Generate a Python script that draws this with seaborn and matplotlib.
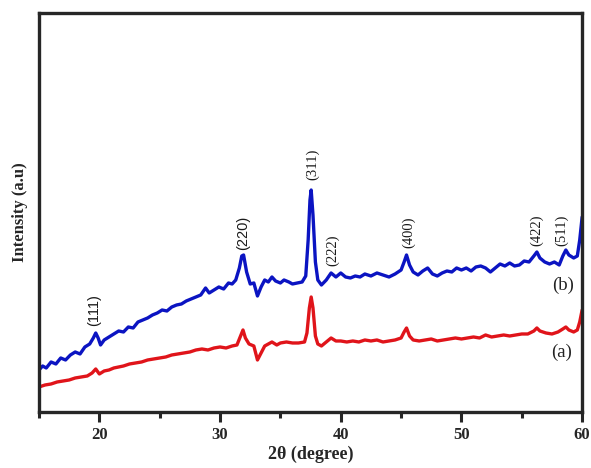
import matplotlib
matplotlib.use("Agg")
import matplotlib.pyplot as plt
from matplotlib.ticker import MultipleLocator
import seaborn as sns
import pandas as pd

# --- data (2theta in degrees, intensity in arbitrary units) ---
two_theta_b = [15.0, 15.3, 15.6, 16.0, 16.4, 16.8, 17.2, 17.6, 18.0, 18.4, 18.8, 19.2, 19.5, 19.7, 19.9,
               20.1, 20.4, 20.8, 21.2, 21.6, 22.0, 22.4, 22.8, 23.2, 23.6, 24.0, 24.4, 24.8, 25.2, 25.6,
               26.0, 26.4, 26.8, 27.2, 27.6, 28.0, 28.4, 28.8, 29.1, 29.5, 29.9, 30.3, 30.7, 31.0, 31.3,
               31.6, 31.8, 31.95, 32.2, 32.5, 32.8, 33.1, 33.4, 33.7, 34.0, 34.3, 34.6, 35.0, 35.3, 35.7,
               36.0, 36.4, 36.8, 37.1, 37.3, 37.45, 37.55, 37.7, 37.9, 38.1, 38.4, 38.8, 39.2, 39.6, 40.0,
               40.4, 40.8, 41.2, 41.6, 42.0, 42.5, 43.0, 43.5, 44.0, 44.5, 45.0, 45.25, 45.45, 45.7, 46.0,
               46.4, 46.8, 47.2, 47.6, 48.0, 48.4, 48.8, 49.2, 49.6, 50.0, 50.4, 50.8, 51.2, 51.6, 52.0,
               52.4, 52.8, 53.2, 53.6, 54.0, 54.4, 54.8, 55.2, 55.6, 56.0, 56.25, 56.5, 56.9, 57.3, 57.7,
               58.1, 58.4, 58.65, 58.9, 59.3, 59.6, 59.8, 60.0]
intensity_b = [38, 42, 40, 46, 44, 50, 48, 53, 56, 54, 61, 64, 70, 75, 70,
               63, 68, 71, 74, 77, 76, 81, 80, 86, 88, 90, 93, 95, 98, 97,
               101, 103, 104, 107, 109, 111, 113, 120, 115, 118, 121, 119, 125, 124, 128,
               140, 152, 153, 136, 124, 125, 112, 121, 128, 126, 131, 127, 125, 128, 126,
               124, 125, 126, 132, 168, 208, 218, 193, 146, 128, 123, 128, 135, 131, 135,
               131, 130, 132, 131, 134, 132, 135, 133, 131, 134, 138, 146, 153, 143, 136,
               133, 137, 140, 134, 132, 135, 137, 136, 140, 138, 140, 137, 141, 142, 140,
               136, 140, 144, 142, 145, 142, 143, 147, 146, 152, 156, 150, 146, 144, 146,
               143, 152, 158, 153, 150, 152, 168, 191]

two_theta_a = [15.0, 15.5, 16.0, 16.5, 17.0, 17.5, 18.0, 18.5, 19.0, 19.4, 19.7, 20.0, 20.4, 20.8, 21.2,
               21.6, 22.0, 22.5, 23.0, 23.5, 24.0, 24.5, 25.0, 25.5, 26.0, 26.5, 27.0, 27.5, 28.0, 28.5,
               29.0, 29.5, 30.0, 30.5, 31.0, 31.4, 31.7, 31.9, 32.1, 32.4, 32.8, 33.1, 33.4, 33.7, 34.0,
               34.3, 34.7, 35.0, 35.5, 36.0, 36.5, 37.0, 37.2, 37.4, 37.55, 37.7, 37.9, 38.1, 38.4, 38.8,
               39.2, 39.6, 40.0, 40.5, 41.0, 41.5, 42.0, 42.5, 43.0, 43.5, 44.0, 44.5, 45.0, 45.25, 45.45,
               45.7, 46.0, 46.5, 47.0, 47.5, 48.0, 48.5, 49.0, 49.5, 50.0, 50.5, 51.0, 51.5, 52.0, 52.5,
               53.0, 53.5, 54.0, 54.5, 55.0, 55.5, 56.0, 56.25, 56.5, 57.0, 57.5, 58.0, 58.4, 58.65, 58.9,
               59.3, 59.6, 59.8, 60.0]
intensity_a = [21, 23, 24, 26, 27, 28, 30, 31, 32, 35, 39, 34, 37, 38, 40,
               41, 42, 44, 45, 46, 48, 49, 50, 51, 53, 54, 55, 56, 58, 59,
               58, 60, 61, 60, 62, 63, 72, 78, 70, 64, 62, 48, 55, 62, 64,
               66, 63, 65, 66, 65, 65, 66, 75, 100, 111, 100, 72, 64, 62, 66,
               70, 67, 67, 66, 67, 66, 68, 67, 68, 66, 67, 68, 70, 76, 80,
               72, 68, 67, 68, 69, 67, 68, 69, 70, 69, 70, 71, 70, 73, 71,
               72, 73, 72, 73, 74, 74, 77, 80, 77, 75, 74, 76, 79, 81, 78,
               76, 78, 86, 98]

peak_labels = ["(111)", "(220)", "(311)", "(222)", "(400)", "(422)", "(511)"]
peak_label_x = [19.6, 31.9, 37.7, 39.35, 45.6, 56.2, 58.3]
peak_label_y = [98, 175, 244, 158, 176, 178, 178]
peak_label_font = ["Liberation Sans", "Liberation Sans", "Liberation Serif", "Liberation Serif",
                   "Liberation Serif", "Liberation Serif", "Liberation Serif"]

sample_labels = ["(b)", "(a)"]
sample_label_x = [58.4, 58.3]
sample_label_y = [123, 56]

x_ticks = [20, 30, 40, 50, 60]

# --- plotting ---
sns.set_style("ticks")
plt.rcParams["font.family"] = ["Liberation Serif", "DejaVu Serif"]

df_b = pd.DataFrame({"two_theta": two_theta_b, "intensity": intensity_b})
df_a = pd.DataFrame({"two_theta": two_theta_a, "intensity": intensity_a})

fig = plt.figure(figsize=(5.91, 4.68), dpi=100)
ax = fig.add_axes([0.066, 0.1197, 0.919, 0.8525])

sns.lineplot(data=df_b, x="two_theta", y="intensity", ax=ax, color="#0b14c2", lw=2.4,
             estimator=None, sort=False)
sns.lineplot(data=df_a, x="two_theta", y="intensity", ax=ax, color="#e0141a", lw=2.4,
             estimator=None, sort=False)

for lab, x, y, fam in zip(peak_labels, peak_label_x, peak_label_y, peak_label_font):
    ax.text(x, y, lab, rotation=90, ha="center", va="center", fontsize=10.5,
            color="#1a1a1a", family=[fam, "DejaVu Sans"])
for lab, x, y in zip(sample_labels, sample_label_x, sample_label_y):
    ax.text(x, y, lab, ha="center", va="center", fontsize=13.5, color="#222222")

ax.set_xlim(15, 60)
ax.set_ylim(-4, 395)
ax.set_xticks(x_ticks)
ax.xaxis.set_minor_locator(MultipleLocator(5))
ax.set_yticks([])
ax.tick_params(axis="x", which="major", direction="out", length=7, width=2.2,
               labelsize=12, pad=4)
ax.tick_params(axis="x", which="minor", direction="out", length=4, width=2.2)
for t in ax.get_xticklabels():
    t.set_fontweight("bold")
for s in ax.spines.values():
    s.set_linewidth(2.4)
    s.set_visible(True)
ax.set_xlabel("2θ (degree)", fontsize=13, fontweight="bold", labelpad=2)
ax.set_ylabel("Intensity (a.u)", fontsize=12, fontweight="bold", labelpad=8)

fig.savefig("out.png", dpi=100)
